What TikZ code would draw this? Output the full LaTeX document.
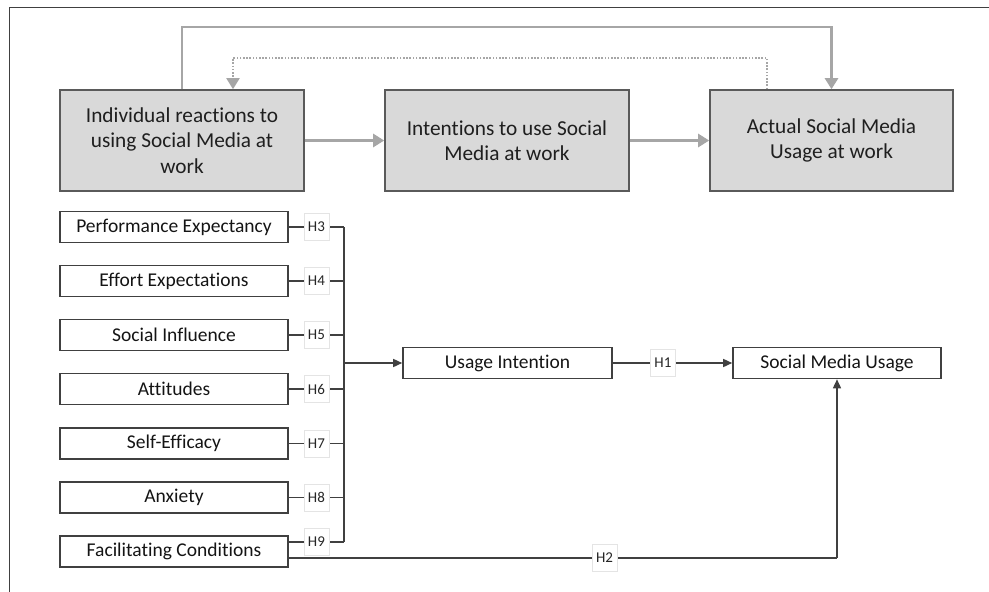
\documentclass[tikz,border=0pt]{standalone}
\usepackage{fontspec}
\setmainfont{Carlito}[Ligatures=NoCommon]
\usetikzlibrary{arrows.meta}
\definecolor{boxfill}{HTML}{D9D9D9}
\definecolor{boxline}{HTML}{5A5A5A}
\definecolor{flow}{HTML}{A6A6A6}
\definecolor{ink}{HTML}{404040}
\definecolor{tagline}{HTML}{E4E4E4}
\begin{document}
\begin{tikzpicture}[x=1pt,y=-1pt,
  stagebox/.style={draw=boxline,fill=boxfill,line width=1.6pt,minimum width=244pt,minimum height=101pt,
    align=center,font=\fontsize{21.3}{25.5}\selectfont,text=black!88},
  factor/.style={draw=ink,line width=1.6pt,minimum width=228pt,minimum height=31pt,inner sep=0pt,
    font=\fontsize{19.5}{22}\selectfont,text=black!92},
  outcome/.style={factor,minimum width=209pt},
  flowarrow/.style={draw=flow,line width=2.6pt,-{Triangle[length=11pt,width=13pt]}},
  dotarrow/.style={draw=flow,line width=2pt,dash pattern=on 1.6pt off 1.6pt,-{Triangle[length=11pt,width=13pt]}},
  link/.style={draw=ink,line width=1.5pt},
  linkarrow/.style={link,-{Triangle[length=9pt,width=8pt]}},
  tag/.style={draw=tagline,fill=white,line width=0.6pt,minimum width=25pt,minimum height=27pt,inner sep=0pt,
    font=\fontsize{15}{17}\selectfont,text=black!85}]
\useasboundingbox (0,0) rectangle (989,592);

% frame (top and left edges)
\draw[draw=ink,line width=1.5pt] (9.5,592) -- (9.5,7.5) -- (989,7.5);

% upper process chain
\node[stagebox] (A) at (182,140.5) {Individual reactions to\\using Social Media at\\work};
\node[stagebox] (B) at (507,140.5) {Intentions to use Social\\Media at work};
\node[stagebox,minimum width=243pt] (C) at (831.5,140.5) {Actual Social Media\\Usage at work};

\draw[flowarrow] (A) -- (B);
\draw[flowarrow] (B) -- (C);

\coordinate (solidrail) at (0,27);
\draw[flowarrow] (A.north) -- (A.north |- solidrail) -| (C.north);

\coordinate (dotrail) at (0,58);
\coordinate (dotstart) at ([xshift=-64.5pt]C.north);
\coordinate (dotend) at ([xshift=51pt]A.north);
\draw[dotarrow] (dotstart) -- (dotstart |- dotrail) -| (dotend);

% research model
\node[factor] (pe) at (174,227) {Performance Expectancy};
\node[factor] (ee) at (174,281) {Effort Expectations};
\node[factor] (si) at (174,335) {Social Influence};
\node[factor] (at) at (174,389) {Attitudes};
\node[factor] (se) at (174,443.5) {Self-Efficacy};
\node[factor] (ax) at (174,497.5) {Anxiety};
\node[factor] (fc) at (174,551.5) {Facilitating Conditions};

\node[outcome] (ui) at (507.5,363) {Usage Intention};
\node[outcome,minimum width=208pt] (smu) at (837,363) {Social Media Usage};

\coordinate (bus) at (344,0);
\coordinate (fcup) at ([yshift=9.5pt]fc.east);
\coordinate (fcdown) at ([yshift=-6.5pt]fc.east);

\draw[link] (pe.east) -- node[tag] {H3} (pe.east -| bus);
\draw[link] (ee.east) -- node[tag] {H4} (ee.east -| bus);
\draw[link] (si.east) -- node[tag] {H5} (si.east -| bus);
\draw[link] (at.east) -- node[tag] {H6} (at.east -| bus);
\draw[link] (se.east) -- node[tag] {H7} (se.east -| bus);
\draw[link] (ax.east) -- node[tag] {H8} (ax.east -| bus);
\draw[link] (fcup) -- node[tag] {H9} (fcup -| bus);
\draw[link] (pe.east -| bus) -- (fcup -| bus);

\draw[linkarrow] (ui.west -| bus) -- (ui.west);
\draw[linkarrow] (ui.east) -- node[tag,pos=0.42] {H1} (smu.west);

\coordinate (h2corner) at (smu.south |- fcdown);
\draw[link] (fcdown) -- node[tag,pos=0.576] {H2} (h2corner);
\draw[linkarrow] (h2corner) -- (smu.south);
\end{tikzpicture}
\end{document}
